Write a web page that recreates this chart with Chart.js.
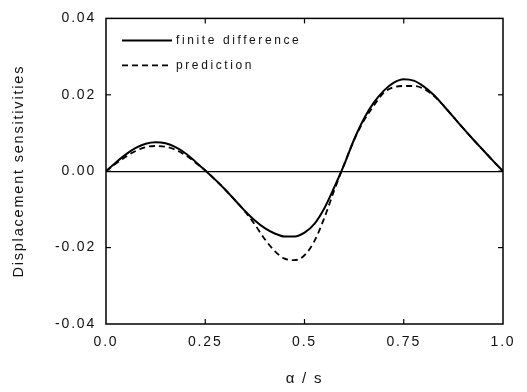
<!DOCTYPE html>
<html><head><meta charset="utf-8">
<script src="https://cdn.jsdelivr.net/npm/chart.js@4.4.1/dist/chart.umd.min.js"></script>
<style>html,body{margin:0;padding:0;background:#fff}#wrap{width:527px;height:392px}</style>
</head><body><div id="wrap"><canvas id="c" width="527" height="392"></canvas></div>
<script>
const alphaValues = [0,0.025,0.05,0.075,0.1,0.125,0.15,0.175,0.2,0.225,0.25,0.275,0.3,0.325,0.35,0.375,0.4,0.425,0.45,0.475,0.5,0.525,0.55,0.575,0.6,0.625,0.65,0.675,0.7,0.725,0.75,0.775,0.8,0.825,0.85,0.875,0.9,0.925,0.95,0.975,1.0];
const finiteDifference = [0,0.0023,0.0044,0.0061,0.0072,0.0076,0.0073,0.0063,0.0047,0.0025,0.0002,-0.0022,-0.0048,-0.0076,-0.0104,-0.0129,-0.0149,-0.0163,-0.0171,-0.0171,-0.0161,-0.0138,-0.0097,-0.0042,0.0017,0.0083,0.0138,0.0180,0.0211,0.0232,0.0241,0.0237,0.0222,0.0200,0.0172,0.0142,0.0112,0.0083,0.0055,0.0027,0];
const prediction = [0,0.0020,0.0038,0.0053,0.0063,0.0066,0.0064,0.0056,0.0042,0.0023,0.0002,-0.0022,-0.0048,-0.0076,-0.0105,-0.0140,-0.0178,-0.0209,-0.0229,-0.0233,-0.0220,-0.0183,-0.0122,-0.0050,0.0018,0.0082,0.0133,0.0172,0.0206,0.0220,0.0223,0.0223,0.0216,0.0198,0.0172,0.0142,0.0112,0.0083,0.0055,0.0027,0];
const xTickValues = [0,0.25,0.5,0.75,1];
const xTickLabels = ['0.0','0.25','0.5','0.75','1.0'];
const yTickValues = [-0.04,-0.02,0,0.02,0.04];
const yTickLabels = ['-0.04','-0.02','0.00','0.02','0.04'];
const seriesNames = ['finite difference','prediction'];
const xTitle = 'α / s';
const yTitle = 'Displacement sensitivities';

const toPoints = ys => alphaValues.map((a,i)=>({x:a,y:ys[i]}));

const framePlugin = {
  id:'frame',
  beforeDraw(chart){ chart.ctx.letterSpacing='1.8px'; },
  afterDraw(chart){
    const {ctx, chartArea:a, scales:{x,y}} = chart;
    ctx.save();
    ctx.letterSpacing='0px';
    ctx.setLineDash([]);
    ctx.strokeStyle='#000';
    ctx.lineWidth=1.5;
    ctx.strokeRect(a.left,a.top,a.right-a.left,a.bottom-a.top);
    ctx.lineWidth=1.2;
    const L=5;
    const seg=(x1,y1,x2,y2)=>{ctx.beginPath();ctx.moveTo(x1,y1);ctx.lineTo(x2,y2);ctx.stroke();};
    x.ticks.forEach(t=>{const p=x.getPixelForValue(t.value); if(p<=a.left+1||p>=a.right-1)return; seg(p,a.bottom,p,a.bottom-L); seg(p,a.top,p,a.top+L);});
    y.ticks.forEach(t=>{const p=y.getPixelForValue(t.value); if(p<=a.top+1||p>=a.bottom-1)return; seg(a.left,p,a.left+L,p); seg(a.right,p,a.right-L,p);});
    // legend
    ctx.font='12px "Liberation Sans", Arial, sans-serif';
    ctx.fillStyle='#111';
    ctx.textBaseline='middle';
    ctx.textAlign='left';
    chart.data.datasets.forEach((ds,i)=>{
      const yy=a.top+22+i*25;
      ctx.strokeStyle=ds.borderColor;
      ctx.lineWidth=ds.borderWidth;
      ctx.setLineDash(ds.borderDash||[]);
      seg(a.left+16,yy,a.left+66,yy);
      ctx.setLineDash([]);
      ctx.letterSpacing='2.6px';
      ctx.fillText(ds.label,a.left+70,yy);
      ctx.letterSpacing='0px';
    });
    ctx.restore();
  }
};

Chart.defaults.font.family='"Liberation Sans", Arial, sans-serif';
Chart.defaults.color='#111';

new Chart(document.getElementById('c'),{
  type:'line',
  data:{datasets:[
    {label:seriesNames[0],data:toPoints(finiteDifference),borderColor:'#000',borderWidth:2,pointRadius:0,fill:false,cubicInterpolationMode:'monotone'},
    {label:seriesNames[1],data:toPoints(prediction),borderColor:'#000',borderWidth:1.8,borderDash:[6,4],pointRadius:0,fill:false,cubicInterpolationMode:'monotone'}
  ]},
  options:{
    responsive:false,
    devicePixelRatio:1,
    animation:false,
    layout:{padding:{top:15,right:24,left:0,bottom:0}},
    plugins:{legend:{display:false},tooltip:{enabled:false}},
    scales:{
      x:{type:'linear',min:0,max:1,
        afterBuildTicks:s=>{s.ticks=xTickValues.map(v=>({value:v}));},
        afterFit:s=>{s.height=68;},
        ticks:{padding:10,font:{size:14},maxRotation:0,autoSkip:false,callback:(v)=>xTickLabels[xTickValues.indexOf(v)]},
        grid:{display:false,drawTicks:false},border:{display:false},
        title:{display:true,text:xTitle,font:{size:15},padding:{top:0,bottom:4}}
      },
      y:{type:'linear',min:-0.04,max:0.04,
        afterBuildTicks:s=>{s.ticks=yTickValues.map(v=>({value:v}));},
        afterFit:s=>{s.width=106;},
        ticks:{padding:10,font:{size:14},autoSkip:false,callback:(v)=>{const i=yTickValues.findIndex(t=>Math.abs(t-v)<1e-9);return i>=0?yTickLabels[i]:'';}},
        grid:{drawTicks:false,lineWidth:1.2,color:c=>(c.tick&&Math.abs(c.tick.value)<1e-9)?'#000':'rgba(0,0,0,0)'},
        border:{display:false},
        title:{display:true,text:yTitle,font:{size:14.5},padding:{top:10,bottom:0}}
      }
    }
  },
  plugins:[framePlugin]
});
</script>
</body></html>
